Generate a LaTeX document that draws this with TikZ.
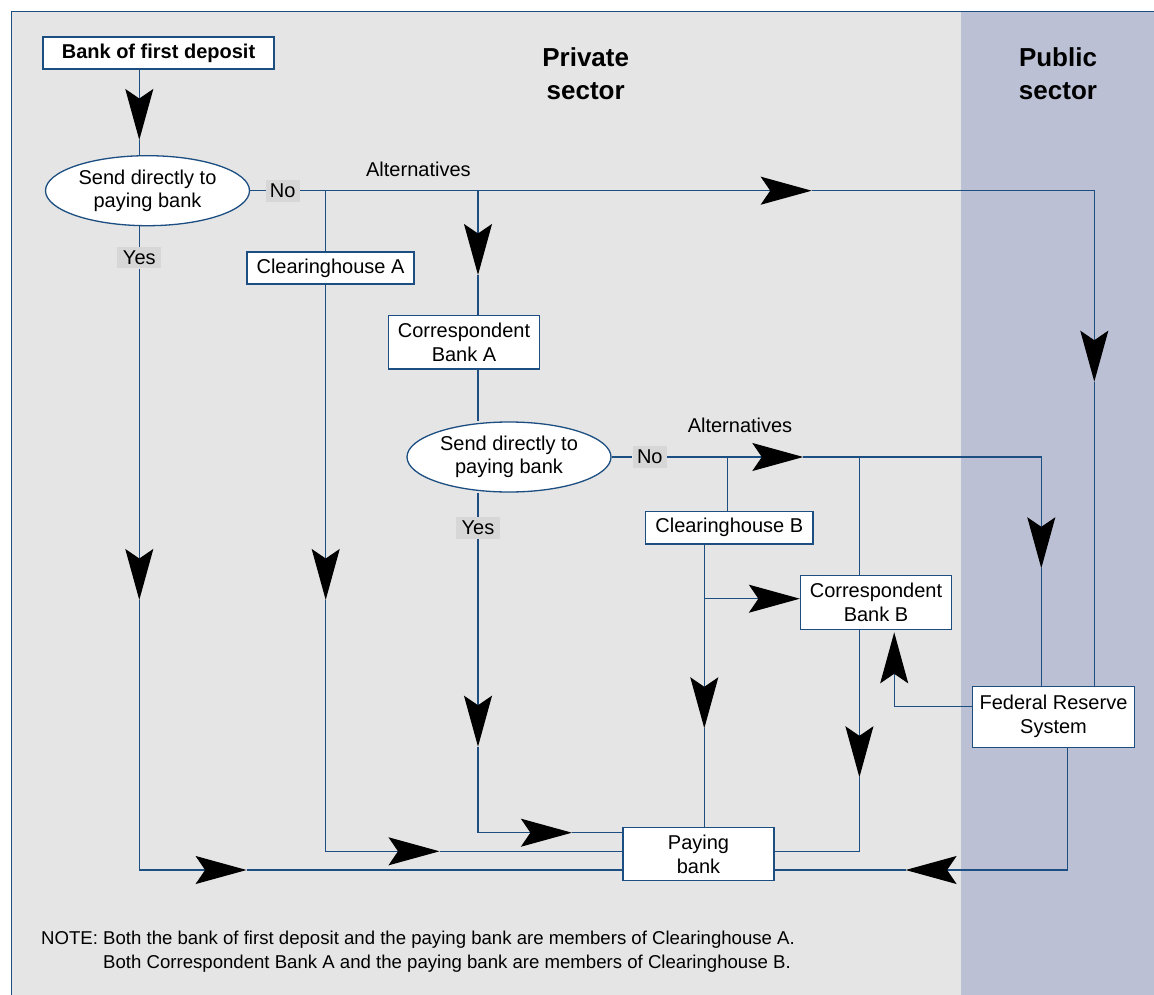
\documentclass[tikz,border=0pt]{standalone}
\usepackage{fontspec}
\setmainfont{Liberation Sans}
\usetikzlibrary{arrows.meta,shapes.geometric}
\definecolor{privgray}{RGB}{229,229,229}
\definecolor{pubblue}{RGB}{187,192,213}
\definecolor{lineblue}{RGB}{28,78,130}
\definecolor{lblgray}{RGB}{215,215,215}
\pgfdeclarelayer{bgl}
\pgfdeclarelayer{edges}
\pgfsetlayers{bgl,edges,main}
\tikzset{
  nbox/.style={draw=lineblue, fill=white, line width=1.3pt, inner sep=0pt, align=center,
    font=\fontsize{20}{24}\selectfont},
  oval/.style={ellipse, draw=lineblue, fill=white, line width=1.3pt, inner sep=0pt, align=center,
    minimum width=204pt, minimum height=70pt, font=\fontsize{20}{23}\selectfont},
  lbl/.style={fill=lblgray, inner sep=0pt, font=\fontsize{20}{24}\selectfont},
  plain/.style={font=\fontsize{20}{24}\selectfont},
  sect/.style={align=center, font=\fontsize{26}{33}\selectfont\bfseries},
  ln/.style={draw=lineblue, line width=1.3pt},
  ar/.style={ln, -{Stealth[length=51pt,width=28pt,inset=9.5pt,black]}},
}
\begin{document}
\begin{tikzpicture}[x=1pt,y=-1pt]
\useasboundingbox (0,0) rectangle (1154,995);
\begin{pgfonlayer}{bgl}
\fill[white] (0,0) rectangle (1154,995);
\fill[privgray] (11.5,11.5) rectangle (961,995);
\fill[pubblue] (961,11.5) rectangle (1154,995);
\draw[lineblue, line width=1.3pt] (11.5,995) -- (11.5,11.5) -- (1154,11.5);
\end{pgfonlayer}

% headings
\node[sect] (priv) at (585.7,74) {Private\\sector};
\node[sect] (pub) at (1058,74) {Public\\sector};

% nodes
\node[nbox, minimum width=231pt, minimum height=32pt, font=\fontsize{20}{24}\selectfont\bfseries] (bfd) at (158.5,53) {Bank of first deposit};
\node[oval] (e1) at (147.5,190.7) {Send directly to\\paying bank};
\node[lbl, minimum width=34pt, minimum height=21.7pt] (no1) at (282.7,190.7) {No};
\node[lbl, minimum width=44pt, minimum height=21.3pt] (yes1) at (139.3,257.7) {Yes};
\node[plain, anchor=base] (alt1) at (418.4,176.7) {Alternatives};
\node[nbox, minimum width=167pt, minimum height=32pt] (cha) at (330.5,268) {Clearinghouse A};
\node[nbox, minimum width=150.4pt, minimum height=53.7pt] (cba) at (464,342.2) {Correspondent\\Bank A};
\node[oval] (e2) at (509,457) {Send directly to\\paying bank};
\node[lbl, minimum width=34.3pt, minimum height=22pt] (no2) at (649.8,457) {No};
\node[lbl, minimum width=43.7pt, minimum height=22pt] (yes2) at (478,527.7) {Yes};
\node[plain, anchor=base] (alt2) at (740,432.3) {Alternatives};
\node[nbox, minimum width=167.3pt, minimum height=32.3pt] (chb) at (729.3,527.8) {Clearinghouse B};
\node[nbox, minimum width=151pt, minimum height=53.6pt] (cbb) at (876,602.5) {Correspondent\\Bank B};
\node[nbox, minimum width=161.5pt, minimum height=61pt] (frs) at (1053.5,716.8) {Federal Reserve\\System};
\node[nbox, minimum width=151pt, minimum height=53pt] (pb) at (698.5,854.2) {Paying\\bank};

\node[anchor=base west, inner sep=0pt, font=\fontsize{18.6}{24.3}\selectfont] (note) at (41,944)
  {\begin{tabular}[t]{@{}l@{\ }l@{}}NOTE: & Both the bank of first deposit and the paying bank are members of Clearinghouse A.\\
   & Both Correspondent Bank A and the paying bank are members of Clearinghouse B.\end{tabular}};

% junctions, corners and arrow tips
\coordinate (t1) at (139.3,140);
\coordinate (c1) at (1094.3,190.7);
\coordinate (t2) at (811.7,190.7);
\coordinate (t3) at (1094.3,381.7);
\coordinate (j1) at (325.7,190.7);
\coordinate (j2) at (478,190.7);
\coordinate (t4) at (478,275);
\coordinate (t5) at (139.3,600);
\coordinate (c2) at (139.3,870);
\coordinate (t6) at (246.6,870);
\coordinate (t7) at (325.7,600);
\coordinate (c3) at (325.7,851.3);
\coordinate (t8) at (439.5,851.3);
\coordinate (t9) at (478,746.7);
\coordinate (c4) at (478,832.7);
\coordinate (t10) at (571.9,832.7);
\coordinate (t11) at (803.3,457);
\coordinate (c5) at (1041.3,457);
\coordinate (t12) at (1041.3,568.3);
\coordinate (j3) at (727.7,457);
\coordinate (j4) at (704.3,598.7);
\coordinate (t13) at (704.3,728.3);
\coordinate (j5) at (859.4,457);
\coordinate (t14) at (859.4,777.3);
\coordinate (c6) at (859.4,851.3);
\coordinate (c7) at (894.2,706.3);
\coordinate (t15) at (894.2,632.3);
\coordinate (c8) at (1067.5,870);
\coordinate (t16) at (905.6,870);

\begin{pgfonlayer}{edges}
\draw[ar] (bfd.south -| t1) -- (t1);
\draw[ln] (t1) -- (e1.north -| t1);
\draw[ln] (e1.east) -- (no1.west);
\draw[ar] (no1.east) -- (t2);
\draw[ar] (t2) -- (c1) -- (t3);
\draw[ln] (t3) -- (frs.north -| t3);
\draw[ln] (j1) -- (cha.north -| j1);
\draw[ar] (cha.south -| j1) -- (t7);
\draw[ar] (t7) -- (c3) -- (t8);
\draw[ln] (t8) -- (pb.west |- t8);
\draw[ar] (j2) -- (t4);
\draw[ln] (t4) -- (cba.north -| t4);
\draw[ln] (cba.south -| t4) -- (e2.north -| t4);
\draw[ln] (e1.south -| t5) -- (yes1.north);
\draw[ar] (yes1.south) -- (t5);
\draw[ar] (t5) -- (c2) -- (t6);
\draw[ln] (t6) -- (pb.west |- t6);
\draw[ln] (e2.south -| t9) -- (yes2.north);
\draw[ar] (yes2.south) -- (t9);
\draw[ar] (t9) -- (c4) -- (t10);
\draw[ln] (t10) -- (pb.west |- t10);
\draw[ln] (e2.east) -- (no2.west);
\draw[ar] (no2.east) -- (t11);
\draw[ar] (t11) -- (c5) -- (t12);
\draw[ln] (t12) -- (frs.north -| t12);
\draw[ln] (j3) -- (chb.north -| j3);
\draw[ar] (chb.south -| j4) -- (t13);
\draw[ln] (t13) -- (pb.north -| t13);
\draw[ar] (j4) -- (cbb.west |- j4);
\draw[ln] (j5) -- (cbb.north -| j5);
\draw[ar] (cbb.south -| j5) -- (t14);
\draw[ln] (t14) -- (c6) -- (pb.east |- c6);
\draw[ar] (frs.west |- c7) -- (c7) -- (t15);
\draw[ar] (frs.south -| c8) -- (c8) -- (t16);
\draw[ln] (t16) -- (pb.east |- t16);
\end{pgfonlayer}
\end{tikzpicture}
\end{document}
